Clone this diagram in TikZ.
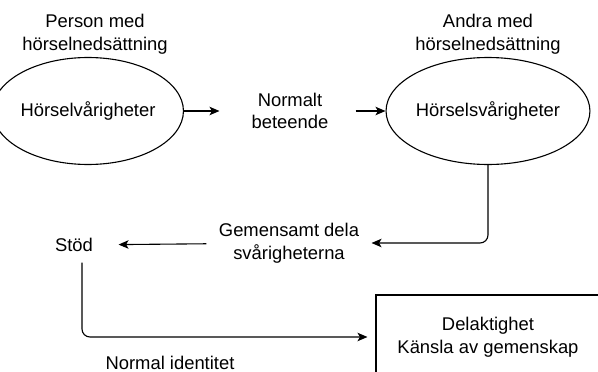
\documentclass[tikz,border=0pt]{standalone}
\usepackage{fontspec}
\setmainfont{Liberation Sans}
\usepackage{tikz}
\usepackage{xcolor}
\usetikzlibrary{arrows.meta,positioning,shapes.geometric}

\begin{document}
\begin{tikzpicture}[x=1pt,y=-1pt,
    font=\fontsize{18.4}{22.5}\selectfont,
    line width=1.1pt,
    label/.style={align=center,inner sep=0pt},
    oval/.style={draw,ellipse,align=center,inner sep=0pt,
                 minimum width=160pt,minimum height=107pt},
    flow/.style={-{Stealth[inset=2.5pt,length=10pt,width=8.5pt]}},
    rounded corners=8pt]
    \useasboundingbox (0,0) rectangle (598,372);
    \clip (0,0) rectangle (598,372);
    % persons and their difficulties
    \node[label] (persontitle) at (95,34) {Person med\\hörselnedsättning};
    \node[oval] (personoval) at (88,111) {Hörselvårigheter};
    \node[label,minimum width=140pt] (behaviour) at (290,111) {Normalt\\beteende};
    \node[oval] (othersoval) at (488,111) {Hörselsvårigheter};
    \node[label] (otherstitle) at (488,34) {Andra med\\hörselnedsättning};
    % sharing and support
    \node[label,minimum width=164pt] (sharing) at (289,243) {Gemensamt dela\\svårigheterna};
    \node[label,minimum width=88pt,minimum height=34pt] (support) at (74,245) {Stöd};
    \node[label] (identity) at (170,363) {Normal identitet};
    \node[draw,sharp corners,align=center,minimum width=224pt,minimum height=84pt]
        (belonging) at (488,337) {Delaktighet\\Känsla av gemenskap};
    % arrows
    \draw[flow] (personoval) -- (behaviour);
    \draw[flow] (behaviour.east) ++(-5,0) -- (othersoval.west);
    \draw[flow] (othersoval.south) |- (sharing.east);
    \draw[flow] (sharing) -- (support);
    \draw[flow,shorten >=8pt] ([xshift=8pt]support.south) |- (belonging.west);
\end{tikzpicture}
\end{document}
